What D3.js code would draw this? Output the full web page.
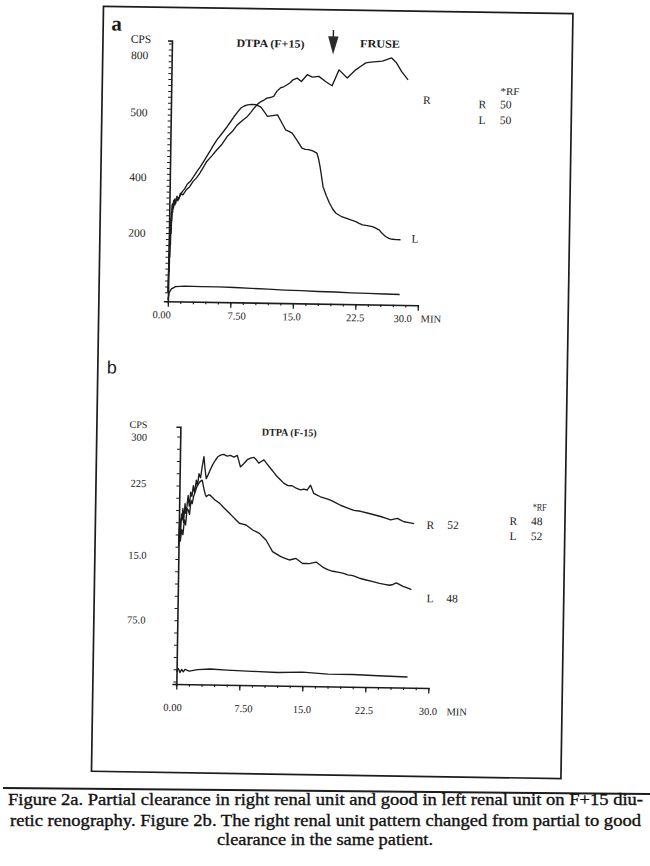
<!DOCTYPE html>
<html>
<head>
<meta charset="utf-8">
<script src="https://cdn.jsdelivr.net/npm/d3@7"></script>
<style>
  body { margin: 0; background: #fff; }
  svg { display: block; }
</style>
</head>
<body>
<div id="viz"></div>
<script>
// ---- data (minutes, counts per second) ----
const xTicks = [0, 7.5, 15, 22.5, 30];
const xTickLabels = ["0.00", "7.50", "15.0", "22.5", "30.0"];

const aTicksY = [800, 600, 400, 200];
const aTickLabelsY = ["800", "500", "400", "200"];
const bTicksY = [300, 225, 150, 75];
const bTickLabelsY = ["300", "225", "15.0", "75.0"];

const aRF = [["R", "50"], ["L", "50"]];
const bRF = [["R", "48"], ["L", "52"]];

// panel a : DTPA (F+15), right kidney
const aRight = [[0,0],[0.05,130],[0.1,70],[0.15,210],[0.2,160],[0.25,270],[0.3,240],[0.4,300],[0.5,285],
  [0.6,315],[0.75,300],[0.9,325],[1.1,315],[1.3,335],[1.6,330],[2.0,347],[2.4,358],[2.8,376],[3.2,388],
  [3.6,404],[4.0,424],[4.4,444],[5.0,463],[5.6,484],[6.2,503],[6.8,529],[7.4,546],[8.0,569],[8.6,584],
  [9.2,598],[9.6,612],[10.0,627],[10.4,640],[10.8,649],[11.2,655],[11.5,661],[11.9,663],[12.3,667],
  [12.7,685],[13.1,696],[13.5,700],[13.9,707],[14.3,715],[14.6,724],[15.1,730],[15.6,719],[16.3,742],
  [16.9,734],[17.7,737],[18.5,720],[19.3,706],[20.1,760],[21.1,733],[22.1,761],[22.8,775],[23.3,785],
  [23.9,788],[24.6,790],[25.3,792],[25.8,797],[26.4,803],[27.0,786],[27.6,758],[28.4,730]];
// panel a : left kidney
const aLeft = [[0,0],[0.04,90],[0.09,190],[0.14,120],[0.2,250],[0.26,200],[0.32,295],[0.4,270],[0.5,310],
  [0.65,295],[0.8,318],[1.0,310],[1.25,324],[1.5,340],[1.8,350],[2.1,366],[2.5,377],[2.85,392],[3.25,410],
  [3.65,426],[4.2,452],[4.86,483],[5.2,500],[5.6,518],[6.2,540],[6.8,563],[7.2,580],[7.6,597],[8.0,612],
  [8.4,626],[8.8,633],[9.2,637],[9.7,639],[10.2,638],[10.8,630],[11.2,615],[11.6,599],[12.2,602],
  [12.8,605],[13.3,580],[13.8,555],[14.2,550],[14.6,544],[15.2,520],[15.8,494],[16.2,490],[16.6,489],
  [17.1,485],[17.6,478],[17.8,460],[18.0,433],[18.2,400],[18.4,365],[18.8,335],[19.2,310],[19.6,290],
  [20.0,276],[20.6,266],[21.2,260],[21.8,254],[22.4,249],[22.8,243],[23.2,238],[23.8,236],[24.4,233],
  [24.8,228],[25.2,222],[25.6,210],[26.0,200],[26.4,194],[26.8,191],[27.3,190],[27.8,190]];
// panel a : background
const aBack = [[0,-25],[0.15,0],[0.4,12],[0.9,20],[2,22],[4,21],[6,21],[8,20],[10,18],[12,16],[14,14],
  [16,13],[18,11],[20,10],[22,8],[24,7],[26,6],[27.8,5]];

// panel b : DTPA (F-15), right kidney
const bRight = [[0,170],[0.1,200],[0.2,178],[0.3,205],[0.35,198],[0.45,212],[0.55,195],[0.7,218],[0.8,206],
  [0.92,214],[1.05,228],[1.2,215],[1.35,232],[1.5,227],[1.65,240],[1.8,232],[2.0,247],[2.15,240],[2.3,255],
  [2.5,250],[2.66,263],[2.86,276],[3.0,262],[3.17,249],[3.4,254],[3.64,260],[3.9,266],[4.24,272],[4.5,276],
  [4.83,278],[5.2,279],[5.63,277],[6.0,278],[6.43,276],[6.83,278],[7.0,272],[7.22,264],[7.6,268],[8.02,273],
  [8.4,275],[8.8,276],[9.1,273],[9.4,269],[9.7,271],[10.0,273],[10.4,268],[10.8,263],[11.2,258],[11.6,253],
  [12.0,249],[12.4,245],[12.9,242],[13.4,242],[13.9,239],[14.4,237],[14.8,238],[15.2,237],[15.6,243],
  [16.0,233],[16.4,231],[16.8,229],[17.4,227],[18.0,225],[18.6,222],[19.2,219],[20.0,216],[20.8,213],
  [21.6,212],[22.4,210],[23.2,208],[24.0,206],[24.6,204],[25.2,202],[25.6,203],[26.0,204],[26.4,202],
  [26.8,200],[27.4,199],[28.0,198]];
// panel b : left kidney
const bLeft = [[0,165],[0.1,190],[0.2,172],[0.35,186],[0.5,180],[0.65,198],[0.8,192],[0.95,212],[1.1,210],
  [1.25,205],[1.4,222],[1.55,218],[1.7,227],[1.9,233],[2.1,240],[2.3,243],[2.5,246],[2.7,247],[2.82,241],
  [2.95,235],[3.08,230],[3.2,227],[3.45,229],[3.65,229],[3.95,226],[4.25,223],[4.55,221],[4.83,219],
  [5.2,215],[5.6,211],[6.0,207],[6.4,203],[6.8,199],[7.2,195],[7.6,194],[8.0,193],[8.4,190],[8.8,187],
  [9.2,185],[9.6,183],[10.0,179],[10.4,175],[10.8,168],[11.2,161],[11.7,158],[12.2,155],[12.7,153],
  [13.2,151],[13.6,152],[14.0,153],[14.4,150],[14.8,147],[15.2,147],[15.6,147],[16.0,148],[16.4,149],
  [16.8,146],[17.2,143],[17.8,140],[18.4,138],[19.0,137],[19.6,136],[20.2,134],[20.8,133],[21.6,130],
  [22.4,128],[23.2,126],[24.0,124],[24.6,123],[25.2,122],[25.6,123],[26.0,125],[26.4,123],[26.8,121],
  [27.3,119],[27.8,117]];
// panel b : background
const bBack = [[0,12],[0.2,16],[0.4,11],[0.6,15],[0.8,12],[1.0,15],[1.5,13],[2.5,15],[4,16],[6,15],[9,14],
  [12,13],[15,14],[18,12],[21,12],[24,11],[27.5,10]];

const captionLines = [
  "Figure 2a. Partial clearance in right renal unit and good in left renal unit on F+15 diu-",
  "retic renography. Figure 2b. The right renal unit pattern changed from partial to good",
  "clearance in the same patient."
];

// ---- drawing ----
const W = 650, H = 866;
const INK = "#1c1c1c";
const SERIF = "'Liberation Serif', 'Times New Roman', serif";

const svg = d3.select("#viz").append("svg")
  .attr("width", W).attr("height", H);

// the scanned page is tilted a little
const page = svg.append("g").attr("transform", "rotate(0.9 335 390)");

page.append("rect")
  .attr("x", 97.5).attr("y", 10)
  .attr("width", 469.5).attr("height", 765)
  .attr("fill", "none").attr("stroke", INK).attr("stroke-width", 1.7);

const text = (g, x, y, s, size, opts = {}) => {
  const t = g.append("text")
    .attr("x", x).attr("y", y)
    .attr("font-family", opts.family || SERIF)
    .attr("font-size", size)
    .attr("font-weight", opts.weight || "normal")
    .attr("text-anchor", opts.anchor || "middle")
    .attr("fill", INK)
    .text(s);
  if (opts.dy) t.attr("dy", opts.dy);
  if (opts.len) t.attr("textLength", opts.len).attr("lengthAdjust", "spacingAndGlyphs");
  return t;
};

const drawPanel = (cfg) => {
  const g = page.append("g");
  const x = d3.scaleLinear().domain([0, 30]).range(cfg.xRange);
  const y = d3.scaleLinear().domain(cfg.yDomain).range(cfg.yRange);

  // y axis: long thin spine with fine ticks on the left
  const yAx = y.copy().domain([cfg.yAxisMin, cfg.yAxisMax])
    .range([y(cfg.yAxisMin), y(cfg.yAxisMax)]);
  const gy = g.append("g")
    .attr("transform", `translate(${cfg.xRange[0]},0)`)
    .call(d3.axisLeft(yAx)
      .tickValues(d3.range(0, cfg.yAxisMax, cfg.yMinorStep))
      .tickSize(3).tickSizeOuter(4).tickFormat(""));
  gy.select(".domain").attr("stroke", INK).attr("stroke-width", 1.6);
  gy.selectAll(".tick line").attr("stroke", INK).attr("stroke-width", 1);

  // x axis: minor ticks every 1.5 min, major every 7.5 min
  const xAx = x.copy().domain([-0.2, 30.1]).range([x(-0.2), x(30.1)]);
  const axisY = y(cfg.xAxisAt);
  const gx = g.append("g")
    .attr("transform", `translate(0,${axisY})`)
    .call(d3.axisBottom(xAx).tickValues(d3.range(0, 30.01, 1.5))
      .tickSize(2.5).tickSizeOuter(0).tickFormat(""));
  gx.select(".domain").attr("stroke", INK).attr("stroke-width", 1.6);
  gx.selectAll(".tick line").attr("stroke", INK).attr("stroke-width", 1.1);
  const gxm = g.append("g")
    .attr("transform", `translate(0,${axisY})`)
    .call(d3.axisBottom(xAx).tickValues(xTicks).tickSize(5.5).tickFormat(""));
  gxm.select(".domain").remove();
  gxm.selectAll(".tick line").attr("stroke", INK).attr("stroke-width", 1.3);

  // curves
  const line = d3.line().x(d => x(d[0])).y(d => y(d[1]));
  cfg.series.forEach(s => {
    g.append("path")
      .datum(s)
      .attr("d", line)
      .attr("fill", "none")
      .attr("stroke", INK)
      .attr("stroke-width", 1.35)
      .attr("stroke-linejoin", "round");
  });

  // tick labels
  xTicks.forEach((t, i) => {
    text(g, x(t) + cfg.xLabelNudge[i], cfg.xLabelY, xTickLabels[i], 10.5);
  });
  text(g, cfg.minX, cfg.xLabelY, "MIN", 10.5, { anchor: "start" });
  cfg.yTicks.forEach((t, i) => {
    text(g, cfg.yLabelX, y(t) + cfg.yLabelNudge[i], cfg.yTickLabels[i], cfg.yLabelSize, { dy: "0.36em" });
  });
  return { g, x, y };
};

// ---- panel a ----
const pa = drawPanel({
  xRange: [166.5, 416.5], yDomain: [0, 800], yRange: [295, 58],
  yAxisMin: -30, yAxisMax: 850, yMinorStep: 20, xAxisAt: -30,
  series: [aRight, aLeft, aBack],
  yTicks: aTicksY, yTickLabels: aTickLabelsY, yLabelNudge: [0, -2, 3.5, 0], yLabelX: 134.5, yLabelSize: 11.5,
  xLabelNudge: [-6, 6.5, -1, 0, -15], xLabelY: 321, minX: 419.5
});
text(pa.g, 111, 34, "a", 21, { weight: "bold" });
text(pa.g, 135.5, 41.9, "CPS", 11.5, { dy: "0.36em" });
text(pa.g, 265, 48.3, "DTPA  (F+15)", 11, { weight: "bold", len: 68 });
text(pa.g, 374.6, 46.8, "FRUSE", 11, { weight: "bold", len: 40 });
// furosemide injection arrow
pa.g.append("line")
  .attr("x1", 327.8).attr("x2", 327.8).attr("y1", 30).attr("y2", 40)
  .attr("stroke", INK).attr("stroke-width", 1.4);
pa.g.append("path")
  .attr("d", d3.line()([[322.6, 36.5], [333, 36.5], [327.8, 54.5]]) + "Z")
  .attr("fill", "#2a2a2a");
text(pa.g, 422.3, 102.6, "R", 11.5);
text(pa.g, 412.6, 241.4, "L", 11.5);
text(pa.g, 505.3, 92.3, "*RF", 10.5, { len: 19 });
aRF.forEach((r, i) => {
  text(pa.g, 477.8, 106 + i * 15.7, r[0], 11.5);
  text(pa.g, 501.4, 105.7 + i * 15.7, r[1], 11.5);
});

// ---- panel b ----
const pb = drawPanel({
  xRange: [181, 433], yDomain: [0, 300], yRange: [684, 439],
  yAxisMin: -3, yAxisMax: 312, yMinorStep: 15, xAxisAt: -3,
  series: [bRight, bLeft, bBack],
  yTicks: bTicksY, yTickLabels: bTickLabelsY, yLabelNudge: [1, -14, -3.4, 0], yLabelX: 140, yLabelSize: 10.5,
  xLabelNudge: [-3.5, 4.5, 0, -1, 0], xLabelY: 713.5, minX: 451.5
});
text(pb.g, 111.5, 377, "b", 18, { family: "'Liberation Sans', Arial, sans-serif" });
text(pb.g, 139, 427.5, "CPS", 10, { dy: "0.36em" });
text(pb.g, 289.9, 436.7, "DTPA  (F-15)", 10.5, { weight: "bold", len: 55 });
text(pb.g, 432.4, 527.5, "R", 11.5);
text(pb.g, 455.1, 527.1, "52", 11.5);
text(pb.g, 433.3, 600.8, "L", 11.5);
text(pb.g, 455.3, 600.5, "48", 11.5);
text(pb.g, 541.5, 507.5, "*RF", 10.5, { len: 14 });
bRF.forEach((r, i) => {
  text(pb.g, 515.4, 522.2 + i * 15, r[0], 11.5);
  text(pb.g, 538.8, 521.9 + i * 15, r[1], 11.5);
});

// ---- caption below the figure box ----
svg.append("line")
  .attr("x1", 3).attr("y1", 788).attr("x2", 650).attr("y2", 794)
  .attr("stroke", INK).attr("stroke-width", 2);

const cap = svg.append("g")
  .attr("font-family", SERIF).attr("font-size", 17).attr("fill", "#111")
  .attr("stroke", "#111").attr("stroke-width", 0.35);
cap.append("text").attr("x", 8).attr("y", 804.5)
  .attr("textLength", 635).attr("lengthAdjust", "spacingAndGlyphs").text(captionLines[0]);
cap.append("text").attr("x", 10).attr("y", 825.5)
  .attr("textLength", 631).attr("lengthAdjust", "spacingAndGlyphs").text(captionLines[1]);
cap.append("text").attr("x", 217).attr("y", 844.5)
  .attr("textLength", 216).attr("lengthAdjust", "spacingAndGlyphs").text(captionLines[2]);
</script>
</body>
</html>
